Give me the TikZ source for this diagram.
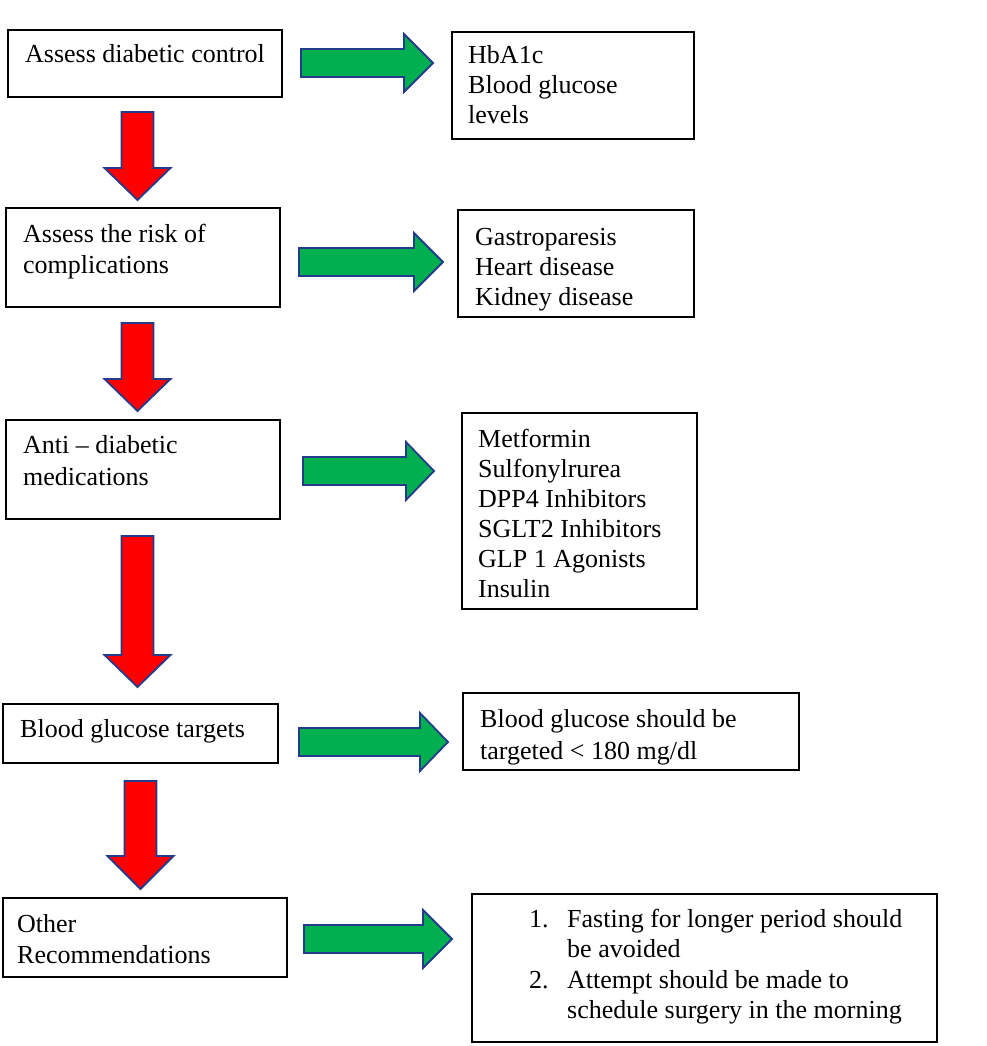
\documentclass[tikz,border=0pt]{standalone}
\usepackage{fontspec}
\setmainfont{Liberation Serif}
\definecolor{gfill}{RGB}{0,176,80}
\definecolor{rfill}{RGB}{255,0,0}
\definecolor{aline}{RGB}{36,58,140}
\tikzset{
  box/.style={draw=black, line width=1.6pt},
  txt/.style={anchor=base west, inner sep=0pt, font=\fontsize{26}{30}\selectfont},
  garrow/.style={fill=gfill, draw=aline, line width=1.8pt, line join=miter},
  rarrow/.style={fill=rfill, draw=aline, line width=1.8pt, line join=miter}
}
% right arrow: shaft-left x, centre y, head-base x, tip x
\newcommand{\GArr}[4]{\draw[garrow] (#1,#2-14) -- (#3,#2-14) -- (#3,#2-29) -- (#4,#2) -- (#3,#2+29) -- (#3,#2+14) -- (#1,#2+14) -- cycle;}
% down arrow: centre x, shaft top y, head-base y, tip y
\newcommand{\RArr}[4]{\draw[rarrow] (#1-16,#2) -- (#1+16,#2) -- (#1+16,#3) -- (#1+33,#3) -- (#1,#4) -- (#1-33,#3) -- (#1-16,#3) -- cycle;}
\begin{document}
\begin{tikzpicture}[x=1pt,y=-1pt]
\useasboundingbox (0,0) rectangle (986,1046);
% left boxes
\draw[box] (8,30) rectangle (282,97);
\draw[box] (6,208) rectangle (280,307);
\draw[box] (6,420) rectangle (280,519);
\draw[box] (3,704) rectangle (278,763);
\draw[box] (3,898) rectangle (287,977);
% right boxes
\draw[box] (452,32) rectangle (694,139);
\draw[box] (458,210) rectangle (694,317);
\draw[box] (462,413) rectangle (697,609);
\draw[box] (463,693) rectangle (799,770);
\draw[box] (472,894) rectangle (937,1042);
% left texts
\node[txt] (l1a) at (25,63) {Assess diabetic control};
\node[txt] (l2a) at (23,242) {Assess the risk of};
\node[txt] (l2b) at (23,273) {complications};
\node[txt] (l3a) at (23,453) {Anti -- diabetic};
\node[txt] (l3b) at (23,485) {medications};
\node[txt] (l4a) at (20,737) {Blood glucose targets};
\node[txt] (l5a) at (17,932) {Other};
\node[txt] (l5b) at (17,963) {Recommendations};
% right texts
\node[txt] (r1a) at (468,64) {HbA1c};
\node[txt] (r1b) at (468,94) {Blood glucose};
\node[txt] (r1c) at (468,124) {levels};
\node[txt] (r2a) at (475,245) {Gastroparesis};
\node[txt] (r2b) at (475,275) {Heart disease};
\node[txt] (r2c) at (475,305) {Kidney disease};
\node[txt] (r3a) at (478,447) {Metformin};
\node[txt] (r3b) at (478,477) {Sulfonylrurea};
\node[txt] (r3c) at (478,507) {DPP4 Inhibitors};
\node[txt] (r3d) at (478,537) {SGLT2 Inhibitors};
\node[txt] (r3e) at (478,567) {GLP 1 Agonists};
\node[txt] (r3f) at (478,597) {Insulin};
\node[txt] (r4a) at (480,727) {Blood glucose should be};
\node[txt] (r4b) at (480,759) {targeted < 180 mg/dl};
\node[txt] (r5n1) at (529,927) {1.};
\node[txt] (r5a) at (567,927) {Fasting for longer period should};
\node[txt] (r5b) at (567,957) {be avoided};
\node[txt] (r5n2) at (529,988) {2.};
\node[txt] (r5c) at (567,988) {Attempt should be made to};
\node[txt] (r5d) at (567,1018) {schedule surgery in the morning};
% green arrows
\GArr{301}{63}{404}{433}
\GArr{299}{262}{414}{443}
\GArr{303}{471}{406}{434}
\GArr{299}{742}{420}{448}
\GArr{304}{939}{423}{452}
% red arrows
\RArr{137.5}{112}{168}{200}
\RArr{137.5}{323}{379}{411}
\RArr{137.5}{536}{655}{687}
\RArr{140.5}{781}{856}{889}
\end{tikzpicture}
\end{document}
